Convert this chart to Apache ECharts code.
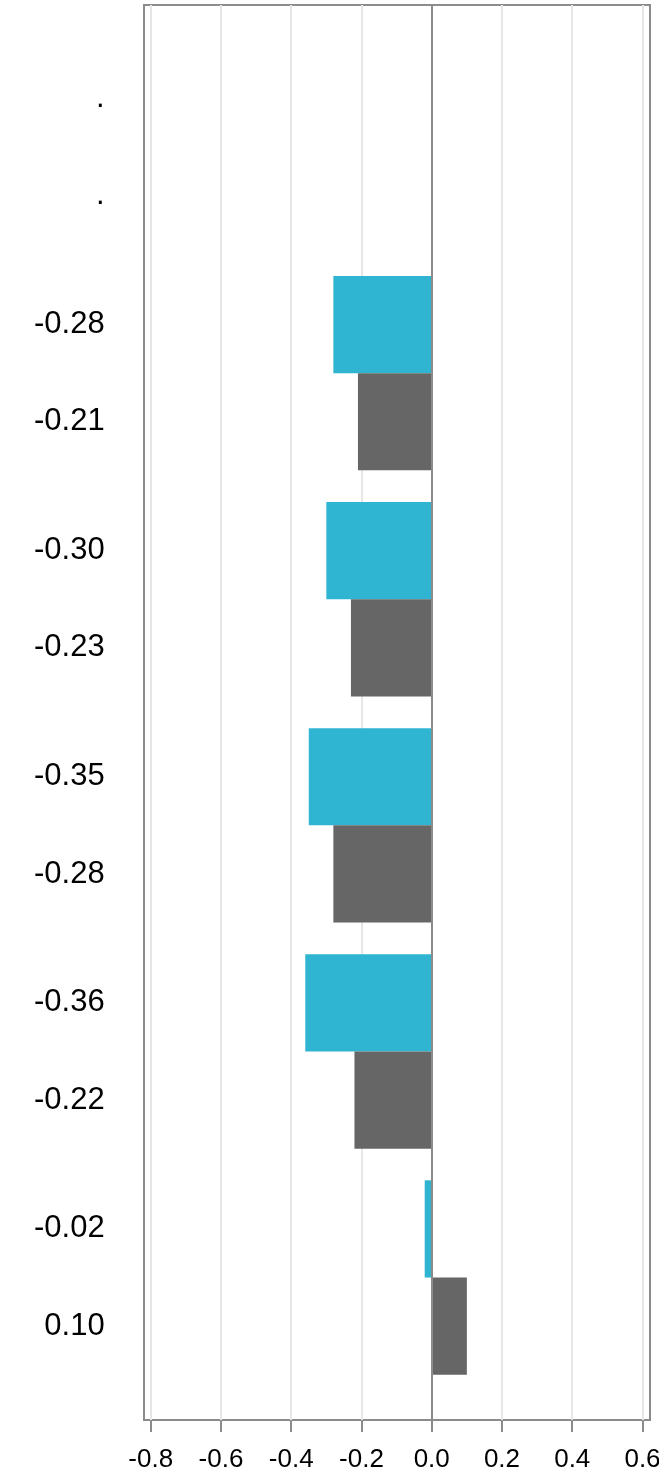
<!DOCTYPE html>
<html>
<head>
<meta charset="utf-8">
<script src="https://cdn.jsdelivr.net/npm/echarts@6/dist/echarts.min.js"></script>
<style>
html,body{margin:0;padding:0;background:#fff;}
#chart{width:659px;height:1477px;}
</style>
</head>
<body>
<div id="chart"></div>
<script>
const categories = ['g1', 'g2', 'g3', 'g4', 'g5', 'g6'];
const cyanValues = [null, -0.28, -0.30, -0.35, -0.36, -0.02];
const grayValues = [null, -0.21, -0.23, -0.28, -0.22, 0.10];
const xMin = -0.8, xMax = 0.6, xInterval = 0.2;

const FONT = "'Liberation Sans', Arial, sans-serif";
const fmt = v => (v === null || v === undefined) ? '.' : v.toFixed(2);

const chart = echarts.init(document.getElementById('chart'), null, {renderer: 'canvas'});
chart.setOption({
  animation: false,
  backgroundColor: '#fff',
  textStyle: {fontFamily: FONT},
  grid: [
    {left: 144, top: 5, width: 506, height: 1415, show: true, borderColor: '#8c8c8c', borderWidth: 2,
     backgroundColor: 'transparent', outerBoundsMode: 'none', containLabel: false},
    {left: 150.7, top: 5, width: 491.8, height: 1415, outerBoundsMode: 'none', containLabel: false},
    {left: 150.7, top: 34, width: 491.8, height: 1356.6, outerBoundsMode: 'none', containLabel: false}
  ],
  xAxis: [
    {gridIndex: 0, type: 'value', show: false, min: 0, max: 1},
    {gridIndex: 1, type: 'value', min: xMin, max: xMax, interval: xInterval, position: 'bottom',
     axisLine: {show: false},
     axisTick: {show: true, length: 12, lineStyle: {color: '#8c8c8c', width: 2}},
     axisLabel: {fontSize: 26, color: '#000', margin: 27, fontFamily: FONT,
       formatter: v => v.toFixed(1)},
     splitLine: {show: true, lineStyle: {color: '#e6e6e6', width: 2}}},
    {gridIndex: 2, type: 'value', min: xMin, max: xMax, interval: xInterval, show: false}
  ],
  yAxis: [
    {gridIndex: 0, type: 'value', show: false, min: 0, max: 1},
    {gridIndex: 1, type: 'value', min: 0, max: 1, z: 10,
     axisLine: {show: true, onZero: true, lineStyle: {color: '#8c8c8c', width: 2}},
     axisTick: {show: false}, axisLabel: {show: false}, splitLine: {show: false}},
    {gridIndex: 2, type: 'category', data: categories, inverse: true,
     axisLine: {show: false}, axisTick: {show: false}, splitLine: {show: false},
     axisLabel: {
       show: true, margin: 46, fontSize: 31, color: '#000', fontFamily: FONT,
       lineHeight: 97.3, align: 'right', padding: [9, 0, 0, 0],
       formatter: (val, idx) => fmt(cyanValues[idx]) + '\n' + fmt(grayValues[idx])
     }}
  ],
  series: [
    {type: 'bar', name: 'cyan', xAxisIndex: 2, yAxisIndex: 2, data: cyanValues,
     itemStyle: {color: '#2fb4d2'}, barGap: '0%', barCategoryGap: '14%'},
    {type: 'bar', name: 'gray', xAxisIndex: 2, yAxisIndex: 2, data: grayValues,
     itemStyle: {color: '#666666'}, barGap: '0%', barCategoryGap: '14%'}
  ]
});
</script>
</body>
</html>
